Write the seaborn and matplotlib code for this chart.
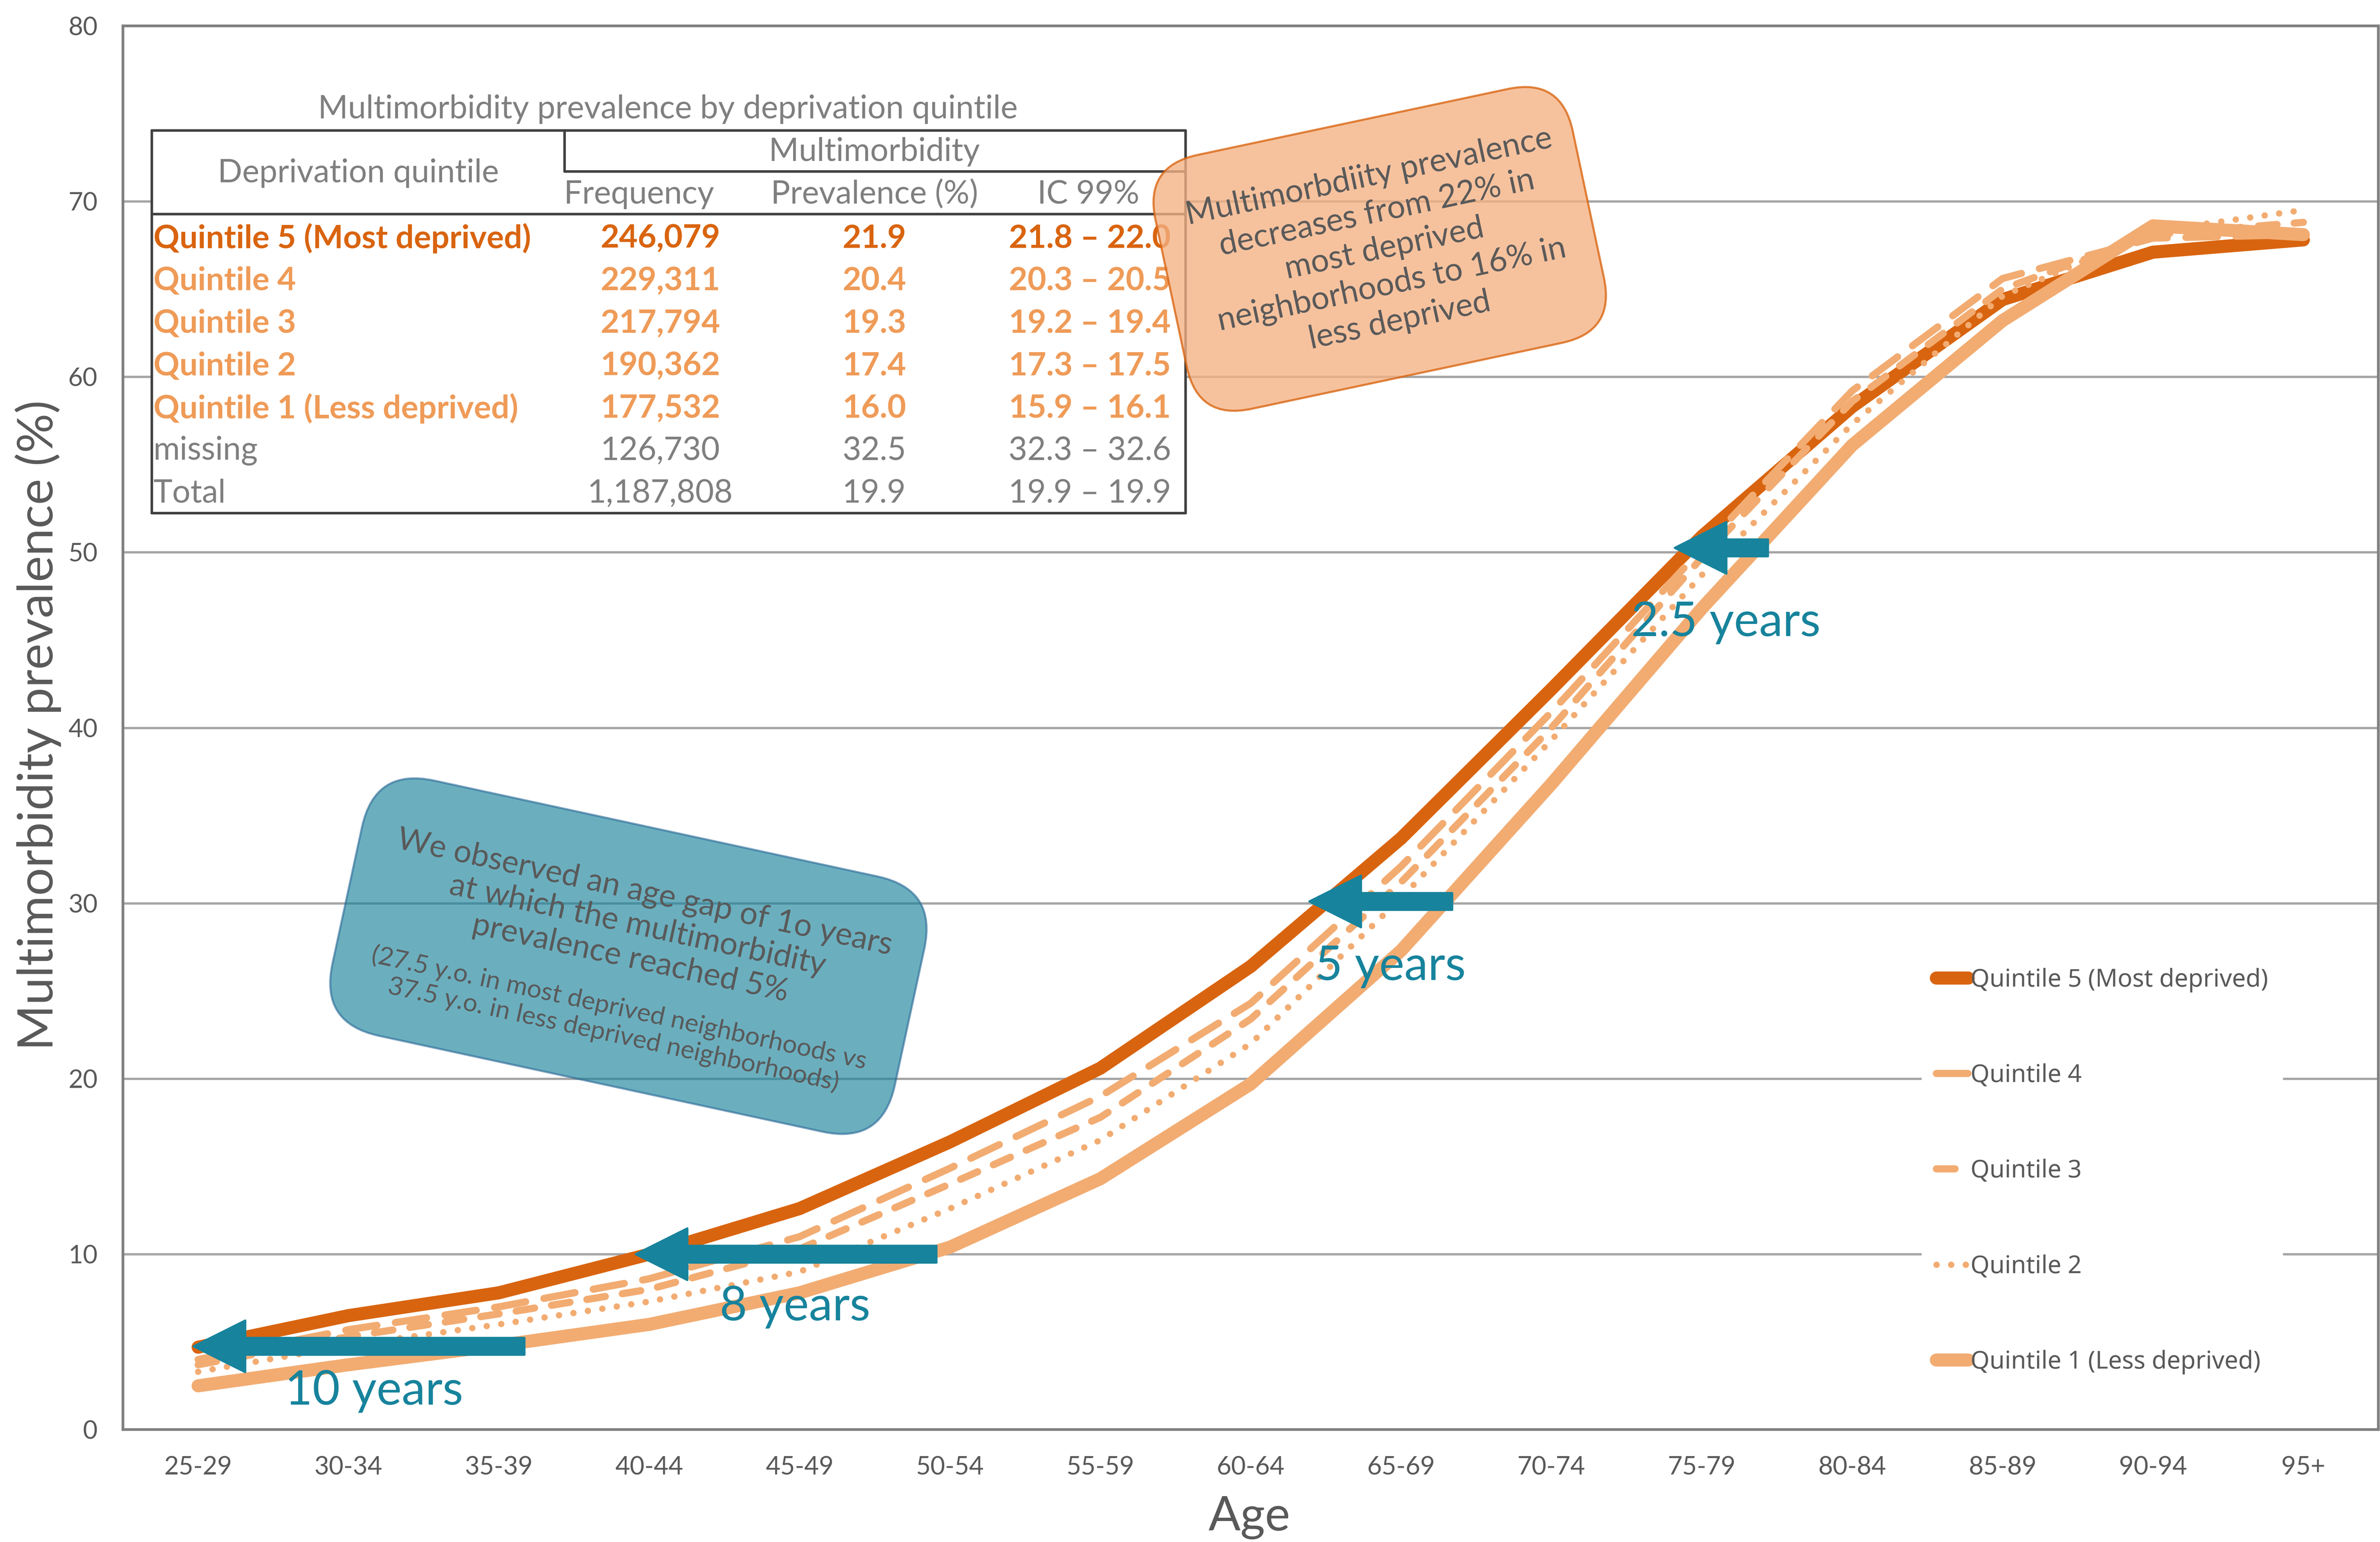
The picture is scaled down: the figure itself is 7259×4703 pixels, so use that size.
import numpy as np
import pandas as pd
import matplotlib
matplotlib.use("Agg")
import matplotlib.pyplot as plt
import seaborn as sns
from matplotlib.patches import FancyBboxPatch, FancyArrowPatch, Rectangle
from matplotlib.lines import Line2D
from matplotlib.transforms import Affine2D

# age groups and prevalence (%) by deprivation quintile
ages = ["25-29", "30-34", "35-39", "40-44", "45-49", "50-54", "55-59", "60-64",
        "65-69", "70-74", "75-79", "80-84", "85-89", "90-94", "95+"]
q5 = [4.7, 6.5, 7.8, 10.0, 12.6, 16.4, 20.6, 26.4, 33.7, 42.2, 50.9, 58.3, 64.4, 67.1, 67.8]
q4 = [4.0, 5.7, 7.0, 8.6, 11.0, 14.9, 19.0, 24.3, 32.1, 40.9, 50.2, 59.2, 65.6, 67.9, 68.1]
q3 = [3.7, 5.3, 6.6, 8.0, 10.3, 14.0, 17.8, 23.4, 31.2, 40.0, 49.7, 58.6, 65.0, 68.1, 68.8]
q2 = [3.3, 4.8, 6.0, 7.3, 9.0, 12.6, 16.5, 22.0, 30.3, 39.3, 48.7, 57.3, 64.6, 68.3, 69.5]
q1 = [2.5, 3.7, 4.8, 6.0, 7.8, 10.4, 14.3, 19.7, 27.3, 36.8, 46.8, 56.1, 63.2, 68.6, 68.1]
quintiles = ["Quintile 5 (Most deprived)", "Quintile 4", "Quintile 3",
             "Quintile 2", "Quintile 1 (Less deprived)"]

# summary table
tab_title = "Multimorbidity prevalence by deprivation quintile"
tab_labels = ["Quintile 5 (Most deprived)", "Quintile 4", "Quintile 3", "Quintile 2",
              "Quintile 1 (Less deprived)", "missing", "Total"]
tab_freq = ["246,079", "229,311", "217,794", "190,362", "177,532", "126,730", "1,187,808"]
tab_prev = ["21.9", "20.4", "19.3", "17.4", "16.0", "32.5", "19.9"]
tab_ci = ["21.8 – 22.0", "20.3 – 20.5", "19.2 – 19.4", "17.3 – 17.5",
          "15.9 – 16.1", "32.3 – 32.6", "19.9 – 19.9"]

# age-gap annotations: (tail x, head x, y) in category / % units, label text and position
gaps = [(2.17, -0.03, 4.75), (4.91, 2.91, 10.0), (8.34, 7.39, 30.1), (10.44, 9.82, 50.25)]
gap_labels = ["10 years", "8 years", "5 years", "2.5 years"]
gap_label_pos = [(1.17, 2.2), (3.97, 7.0), (7.93, 26.4), (10.16, 46.0)]

orange_note = ("Multimorbdiity prevalence\ndecreases from 22% in\nmost deprived\n"
               "neighborhoods to 16% in\nless deprived")
teal_note = "We observed an age gap of 1o years\nat which the multimorbidity\nprevalence reached 5%"
teal_note_small = ("(27.5 y.o. in most deprived neighborhoods vs\n"
                   "37.5 y.o. in less deprived neighborhoods)")

DARK = "#D9640F"
LIGHT = "#F2AC72"
ROW_LIGHT = "#EF9B58"
GRAY = "#595959"
TGRAY = "#7F7F7F"
TEAL = "#17839C"

sns.set_style("white")
plt.rcParams["font.family"] = ["Lato", "DejaVu Sans"]

fig = plt.figure(figsize=(7259 / 463, 4703 / 463), dpi=463)
ax = fig.add_axes([81 / 1568, 1 - 942 / 1016, (1567 - 81) / 1568, (942 - 17) / 1016])
# pixel grid of a 1568x1016 view, origin top left
ref = Affine2D().scale(1 / 1568, -1 / 1016).translate(0, 1) + fig.transFigure

df = pd.DataFrame({
    "age": ages * 5,
    "prev": q5 + q4 + q3 + q2 + q1,
    "quintile": np.repeat(quintiles, len(ages)),
})

styles = {
    quintiles[0]: dict(color=DARK, lw=6.2, ls="-"),
    quintiles[1]: dict(color=LIGHT, lw=3.4, ls=(0, (4.4, 2.6))),
    quintiles[2]: dict(color=LIGHT, lw=3.4, ls=(0, (2.6, 2.4))),
    quintiles[3]: dict(color=LIGHT, lw=3.0, ls=(0, (0.01, 2.3))),
    quintiles[4]: dict(color=LIGHT, lw=6.2, ls="-"),
}

for name in quintiles:
    st = styles[name]
    sns.lineplot(data=df[df["quintile"] == name], x="age", y="prev", ax=ax, sort=False,
                 color=st["color"], lw=st["lw"], linestyle=st["ls"],
                 solid_capstyle="round", dash_capstyle="round", solid_joinstyle="round")

ax.set_xlim(-0.5, len(ages) - 0.5)
ax.set_ylim(0, 80)
ax.set_yticks(range(0, 81, 10))
ax.set_xlabel("")
ax.set_ylabel("")
ax.yaxis.grid(True, color="#A6A6A6", lw=1.1)
ax.xaxis.grid(False)
ax.set_axisbelow(True)
for sp in ax.spines.values():
    sp.set_color("#808080")
    sp.set_linewidth(1.3)
ax.tick_params(axis="y", length=0, pad=12, labelsize=12, labelcolor=GRAY)
ax.tick_params(axis="x", length=9, width=0.8, color="#D9D9D9", direction="inout",
               pad=8, labelsize=12, labelcolor=GRAY)

fig.text(25, 478, "Multimorbidity prevalence (%)", transform=ref, rotation=90,
         ha="center", va="center", fontsize=23.4, color=GRAY)
fig.text(823, 1000, "Age", transform=ref, ha="center", va="center", fontsize=22.5, color=GRAY)

# arrows and gap labels
for (x0, x1, y), lab, (lx, ly) in zip(gaps, gap_labels, gap_label_pos):
    ax.add_patch(FancyArrowPatch((x0, y), (x1, y), mutation_scale=100,
                                 arrowstyle="simple,head_length=0.245,head_width=0.245,tail_width=0.08",
                                 color=TEAL, shrinkA=0, shrinkB=0, zorder=6))
    ax.text(lx, ly, lab, ha="center", va="center", fontsize=22.5, color=TEAL, zorder=7)

# legend
handles = [Line2D([], [], color=styles[n]["color"], lw=styles[n]["lw"], ls=styles[n]["ls"],
                  solid_capstyle="round", dash_capstyle="round") for n in quintiles]
leg = ax.legend(handles, quintiles, loc="upper left", bbox_to_anchor=(1266, 628),
                bbox_transform=ref, frameon=True, fontsize=11.6, handlelength=1.3,
                handletextpad=0.1, labelspacing=2.9, borderpad=0.6, borderaxespad=0)
leg.get_frame().set_facecolor("white")
leg.get_frame().set_edgecolor("none")
leg.get_frame().set_alpha(1)
for t in leg.get_texts():
    t.set_family(["Noto Sans", "DejaVu Sans"])
    t.set_color(GRAY)

# table
fig.add_artist(Rectangle((100, 86), 681, 252, transform=ref, facecolor="white",
                         edgecolor="none", zorder=2))
tab_lines = [((100, 781), (86, 86)), ((100, 781), (338, 338)), ((100, 100), (86, 338)),
             ((781, 781), (86, 338)), ((372, 372), (86, 113)), ((372, 781), (113, 113)),
             ((100, 781), (141, 141))]
for xs, ys in tab_lines:
    fig.add_artist(Line2D(xs, ys, transform=ref, color="#404040", lw=1.2, zorder=3))

tkw = dict(transform=ref, va="center", fontsize=15.3, zorder=3)
fig.text(440, 72, tab_title, ha="center", color=TGRAY, **tkw)
fig.text(236, 114, "Deprivation quintile", ha="center", color=TGRAY, **tkw)
fig.text(576, 100, "Multimorbidity", ha="center", color=TGRAY, **tkw)
fig.text(421, 128, "Frequency", ha="center", color=TGRAY, **tkw)
fig.text(576, 128, "Prevalence (%)", ha="center", color=TGRAY, **tkw)
fig.text(717, 128, "IC 99%", ha="center", color=TGRAY, **tkw)
for i, (lab, fr, pv, ci) in enumerate(zip(tab_labels, tab_freq, tab_prev, tab_ci)):
    y = 157 + 28 * i
    if i == 0:
        col, wt = DARK, "bold"
    elif i < 5:
        col, wt = ROW_LIGHT, "bold"
    else:
        col, wt = TGRAY, "normal"
    fig.text(101, y, lab, ha="left", color=col, fontweight=wt, **tkw)
    fig.text(435, y, fr, ha="center", color=col, fontweight=wt, **tkw)
    fig.text(576, y, pv, ha="center", color=col, fontweight=wt, **tkw)
    fig.text(718, y, ci, ha="center", color=col, fontweight=wt, **tkw)

# orange note box
cx, cy, w, h = 909, 164, 281, 171
box = FancyBboxPatch((cx - w / 2, cy - h / 2), w, h, boxstyle="round,pad=0,rounding_size=36",
                     transform=Affine2D().rotate_deg_around(cx, cy, -12) + ref,
                     facecolor="#F4B183", alpha=0.78, edgecolor=DARK, lw=1.0, zorder=4)
fig.add_artist(box)
fig.text(cx + 3, cy, orange_note, transform=ref, rotation=12, rotation_mode="anchor",
         ha="center", va="center", multialignment="center", fontsize=15.3,
         linespacing=1.3, color=GRAY, zorder=5)

# teal note box
cx, cy, w, h = 414, 630, 379, 172
box = FancyBboxPatch((cx - w / 2, cy - h / 2), w, h, boxstyle="round,pad=0,rounding_size=40",
                     transform=Affine2D().rotate_deg_around(cx, cy, 12.2) + ref,
                     facecolor=TEAL, alpha=0.64, edgecolor="#2E6C99", lw=1.0, zorder=4)
fig.add_artist(box)
fig.text(420, 610, teal_note, transform=ref, rotation=-12.2, rotation_mode="anchor",
         ha="center", va="center", multialignment="center", fontsize=15,
         linespacing=1.2, color=GRAY, zorder=5)
fig.text(406, 673, teal_note_small, transform=ref, rotation=-12.2, rotation_mode="anchor",
         ha="center", va="center", multialignment="center", fontsize=12.2,
         linespacing=1.1, color=GRAY, zorder=5)

fig.savefig("out.png", dpi=463)
